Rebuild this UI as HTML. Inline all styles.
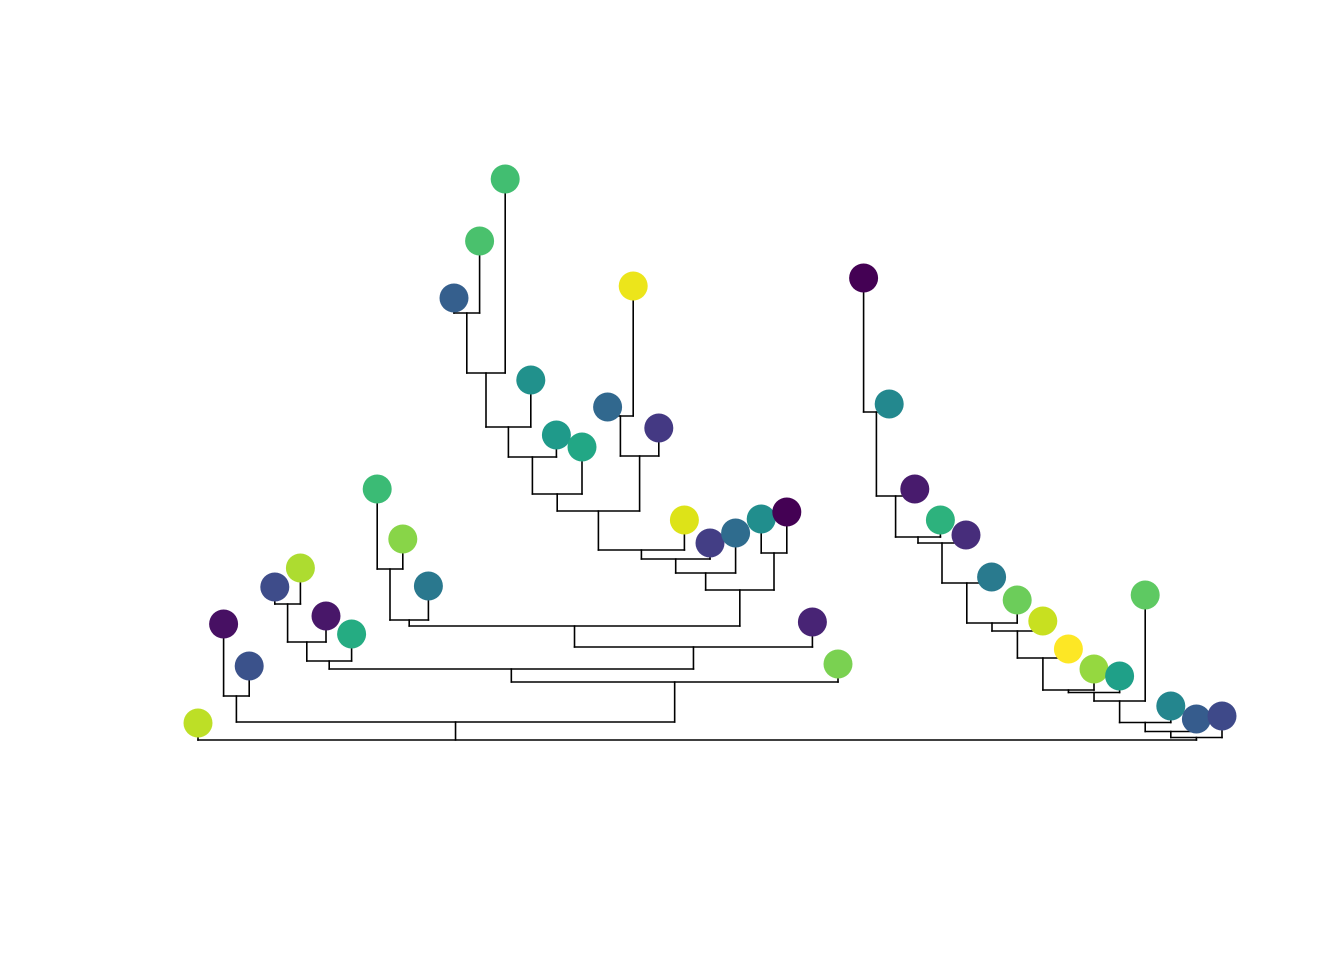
<!DOCTYPE html>
<html>
<head>
<meta charset="utf-8">
<style>
  html, body { margin: 0; padding: 0; background: #ffffff; }
  body { width: 1344px; height: 960px; overflow: hidden; font-family: "Liberation Sans", sans-serif; }
</style>
</head>
<body>
<svg id="chart" width="1344" height="960" viewBox="0 0 1344 960" xmlns="http://www.w3.org/2000/svg">
  <rect x="0" y="0" width="1344" height="960" fill="#ffffff"/>
  <g id="edges"></g>
  <g id="tips"></g>
</svg>
<script>
// Tip heights (distance from root, in data units)
const tipHeights = [1.7, 11.6, 7.4, 15.3, 17.2, 12.4, 10.6, 25.1, 20.1, 15.4,
  44.2, 49.9, 56.1, 36.0, 30.5, 29.3, 33.3, 45.4, 31.2, 22.0,
  19.7, 20.7, 22.1, 22.8, 11.8, 7.6, 46.2, 33.6, 25.1, 22.0,
  20.5, 16.3, 14.0, 11.9, 9.1, 7.1, 6.4, 14.5, 3.4, 2.1, 2.4];
// Tip colours (viridis-like trait values)
const tipColors = ["#bddf26","#471063","#3b528b","#3e4c8a","#addc30","#481769","#25ac82","#3bbb75","#88d548","#2a788e",
  "#355f8d","#4ac16d","#42be71","#21918c","#1f9a8a","#22a785","#31688e","#ece51b","#443983","#dde318",
  "#433e85","#2f6c8e","#218e8d","#440154","#482475","#7ad151","#440154","#23888e","#481b6d","#2db27d",
  "#472d7b","#297a8e","#6ccd5a","#c8e020","#fde725","#95d840","#1fa088","#5ec962","#24868e","#365c8d","#3e4989"];
// Internal nodes: children lists ("L#" tip, "N#" node)
const nodeChildren = [
  ["L1","L2"],["L3","L4"],["N1","L5"],["N2","L6"],["L7","L8"],["N4","L9"],
  ["L10","L11"],["N6","L12"],["N7","L13"],["N8","L14"],["N9","L15"],
  ["L16","L17"],["N11","L18"],["N10","N12"],["N13","L19"],["N14","L20"],["N15","L21"],
  ["L22","L23"],["N16","N17"],["N5","N18"],["N19","L24"],["N3","N20"],["N21","L25"],["N0","N22"],
  ["L26","L27"],["N24","L28"],["N25","L29"],["N26","L30"],["N27","L31"],["N28","L32"],
  ["N29","L33"],["N30","L34"],["N31","L35"],["N32","L36"],["N33","L37"],["N34","L38"],
  ["N35","L39"],["N36","L40"],
  ["L0","N23","N37"]
];
// Internal node heights (data units)
const nodeHeights = [4.4, 13.6, 9.8, 7.9, 17.1, 12.0,
  42.7, 36.7, 31.3, 28.3, 24.6,
  32.4, 28.4, 22.9, 19.0, 18.1, 16.7,
  18.7, 15.0, 11.4, 9.3, 7.1, 5.8, 1.8,
  32.8, 24.4, 20.3, 19.7, 15.7, 11.7,
  10.9, 8.2, 5.0, 4.75, 3.9, 1.75,
  0.85, 0.25,
  0.0];

const NS = "http://www.w3.org/2000/svg";
const x0 = 198, xStep = 25.6, yBase = 740, yUnit = 10;
function xTip(i) { return x0 + i * xStep; }
function yScale(h) { return yBase - h * yUnit; }

const nodeX = [];
function getX(ref) {
  const idx = parseInt(ref.slice(1));
  if (ref[0] === "L") return xTip(idx);
  if (nodeX[idx] !== undefined) return nodeX[idx];
  const ch = nodeChildren[idx];
  const v = (getX(ch[0]) + getX(ch[ch.length - 1])) / 2;
  nodeX[idx] = v;
  return v;
}
function getY(ref) {
  const idx = parseInt(ref.slice(1));
  return ref[0] === "L" ? yScale(tipHeights[idx]) : yScale(nodeHeights[idx]);
}

const edges = document.getElementById("edges");
function line(x1, y1, x2, y2, name) {
  const l = document.createElementNS(NS, "line");
  l.setAttribute("x1", x1); l.setAttribute("y1", y1);
  l.setAttribute("x2", x2); l.setAttribute("y2", y2);
  l.setAttribute("stroke", "#000000");
  l.setAttribute("stroke-width", "1.6");
  l.setAttribute("stroke-linecap", "square");
  
  
  edges.appendChild(l);
}
nodeChildren.forEach((ch, i) => {
  const ny = yScale(nodeHeights[i]);
  const xa = getX(ch[0]), xb = getX(ch[ch.length - 1]);
  line(xa, ny, xb, ny, "node-bar-" + i);
  ch.forEach(c => {
    line(getX(c), ny, getX(c), getY(c), "branch-" + c.toLowerCase());
  });
});

const tips = document.getElementById("tips");
tipHeights.forEach((h, i) => {
  const c = document.createElementNS(NS, "circle");
  c.setAttribute("cx", xTip(i));
  c.setAttribute("cy", yScale(h));
  c.setAttribute("r", 14.5);
  c.setAttribute("fill", tipColors[i]);
  
  
  tips.appendChild(c);
});
</script>
</body>
</html>
